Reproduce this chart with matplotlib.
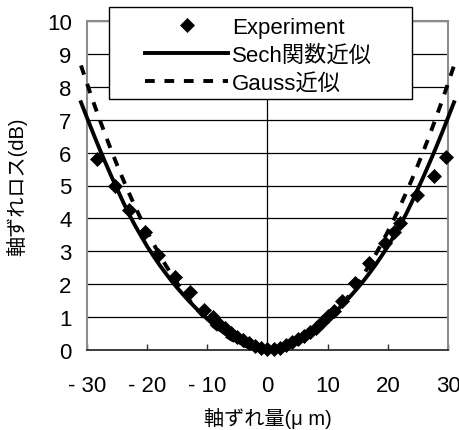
import numpy as np
import matplotlib
matplotlib.use('Agg')
import matplotlib.pyplot as plt
from matplotlib.patches import Rectangle

plt.rcParams['font.family'] = ['Liberation Sans', 'Noto Sans CJK JP', 'DejaVu Sans']

# measured points (axis offset um, loss dB)
exp_x = [-28.3, -25.3, -23.1, -20.3, -18.2, -15.4, -12.9, -10.5,
         -9.0, -8.0, -7.0, -6.0, -5.0, -4.0, -3.0, -2.0, -1.0, 0.0,
         1.0, 2.0, 3.0, 4.0, 5.0, 6.0, 7.0, 8.0, 9.0, 10.0, 11.0, 12.3,
         14.6, 16.9, 19.6, 21.0, 22.0, 24.9, 27.7, 29.7]
exp_y = [5.80, 4.98, 4.27, 3.58, 2.90, 2.21, 1.75, 1.22,
         1.00, 0.80, 0.66, 0.52, 0.40, 0.30, 0.21, 0.12, 0.06, 0.02,
         0.02, 0.05, 0.14, 0.24, 0.33, 0.43, 0.55, 0.68, 0.85, 1.02, 1.20, 1.50,
         2.03, 2.64, 3.24, 3.60, 3.85, 4.71, 5.30, 5.86]

# fitted curves, |x| = 0..31 um
fit_x = list(range(0, 32))
sech_y = [0.0, 0.012, 0.045, 0.10, 0.17, 0.26, 0.37, 0.49, 0.63, 0.78,
          0.94, 1.11, 1.29, 1.48, 1.68, 1.89, 2.11, 2.35, 2.60, 2.87,
          3.15, 3.46, 3.78, 4.12, 4.50, 4.90, 5.30, 5.72, 6.15, 6.60,
          7.06, 7.53]
gauss_y = [0.0, 0.009, 0.036, 0.081, 0.144, 0.225, 0.324, 0.441, 0.576, 0.729,
           0.90, 1.089, 1.296, 1.521, 1.764, 2.025, 2.304, 2.601, 2.916, 3.249,
           3.60, 3.969, 4.356, 4.761, 5.184, 5.625, 6.084, 6.561, 7.056, 7.569,
           8.10, 8.649]

# mirror to negative side
fx = [-v for v in fit_x[:0:-1]] + fit_x
sy = sech_y[:0:-1] + sech_y
gy = gauss_y[:0:-1] + gauss_y

labels = ['Experiment', 'Sech関数近似', 'Gauss近似']

fig = plt.figure(figsize=(4.6, 4.31), dpi=100)
ax = fig.add_axes([87/460, 80/431, 361/460, 329/431])

ax.set_xlim(-30, 30)
ax.set_ylim(0, 10)
ax.set_yticks(range(0, 11))
ax.set_xticks(range(-30, 31, 10))
ax.set_xticklabels(['- 30', '- 20', '- 10', '0', '10', '20', '30'])
ax.yaxis.grid(True, color='black', lw=0.9)
ax.set_axisbelow(True)
ax.axvline(0, color='black', lw=0.9, zorder=1)

for s in ['left', 'top', 'right']:
    ax.spines[s].set_color('#8c8c8c')
    ax.spines[s].set_linewidth(1.5)
ax.spines['bottom'].set_color('#303030')
ax.spines['bottom'].set_linewidth(1.3)

ax.tick_params(axis='y', length=0, pad=11, labelsize=16)
ax.tick_params(axis='x', direction='in', length=4, width=1, color='#303030',
               pad=18, labelsize=16)

p1, = ax.plot(exp_x, exp_y, 'D', color='black', ms=7, mew=0.5, zorder=4,
              clip_on=False)
p2, = ax.plot(fx, sy, '-', color='black', lw=2.8, zorder=3, clip_on=False)
p3, = ax.plot(fx, gy, color='black', lw=2.8, dashes=(2.5, 2.5), zorder=3,
              clip_on=False)

ax.set_xlabel('軸ずれ量(μ m)', fontsize=14.5)
ax.xaxis.set_label_coords(0.5, -0.172)
ax.set_ylabel('軸ずれロス(dB)', fontsize=14.5)
ax.yaxis.set_label_coords(-0.165, 0.5)

# legend box
fig.patches.append(Rectangle((109/460, 1 - 100/431), 303/460, 92/431,
                             transform=fig.transFigure, facecolor='white',
                             edgecolor='black', lw=1, zorder=5))
leg = fig.legend([p1, p2, p3], labels, loc='upper left',
                 bbox_to_anchor=(134/460, 1 - 7/431), frameon=False,
                 borderpad=0, fontsize=16, handlelength=3.75,
                 handletextpad=0.15, labelspacing=0.3, numpoints=1)
leg.set_zorder(6)

fig.savefig('out.png', dpi=100)
